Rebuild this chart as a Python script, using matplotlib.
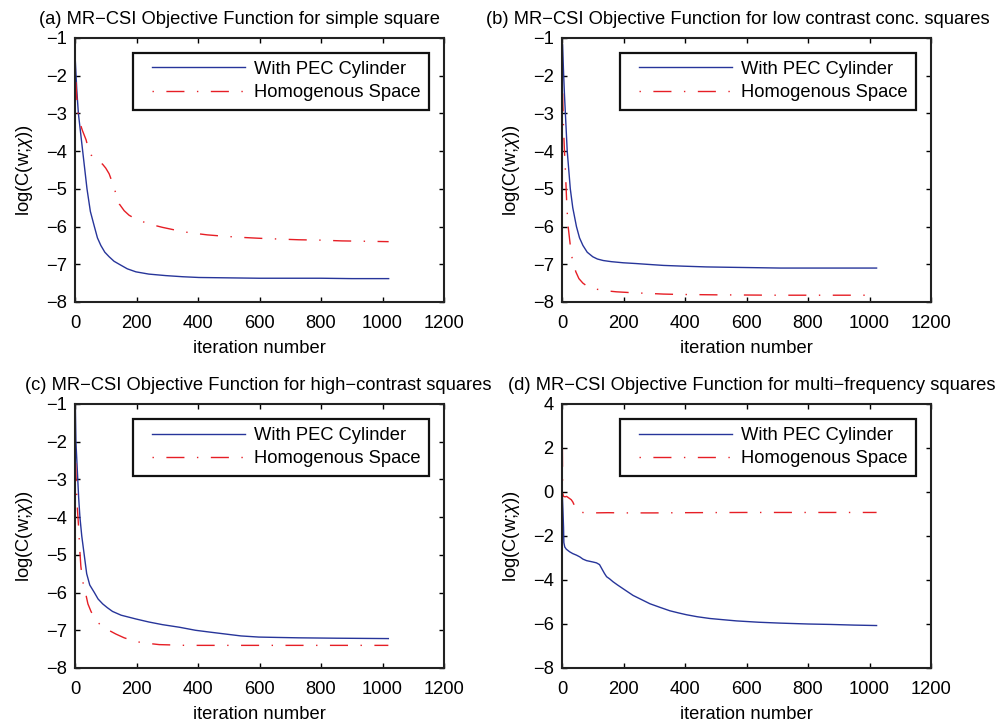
import matplotlib
matplotlib.use("Agg")
import matplotlib.pyplot as plt
from matplotlib.legend_handler import HandlerLine2D

# (a) simple square
a_pec_it = [1, 6, 11, 18, 25, 32, 39, 50, 63, 73, 84, 97, 111, 127, 144, 170, 198, 240, 295, 350, 403, 500, 600, 700, 800, 900, 1020]
a_pec_val = [-1.6, -2.4, -3.0, -3.5, -4.0, -4.5, -5.0, -5.6, -6.0, -6.3, -6.5, -6.68, -6.8, -6.92, -7.0, -7.12, -7.2, -7.26, -7.3, -7.33, -7.35, -7.36, -7.37, -7.37, -7.37, -7.38, -7.38]
a_hom_it = [1, 5, 9, 14, 24, 36, 44, 52, 60, 68, 80, 90, 100, 111, 120, 128, 136, 144, 160, 176, 198, 220, 250, 284, 330, 370, 430, 490, 550, 598, 660, 728, 800, 868, 950, 1020]
a_hom_val = [-1.8, -2.5, -2.95, -3.2, -3.45, -3.7, -3.95, -4.1, -4.15, -4.2, -4.28, -4.35, -4.45, -4.6, -4.8, -5.0, -5.2, -5.4, -5.58, -5.7, -5.8, -5.87, -5.95, -6.02, -6.1, -6.16, -6.22, -6.26, -6.29, -6.31, -6.33, -6.35, -6.36, -6.38, -6.39, -6.4]

# (b) low contrast conc. squares
b_pec_it = [2, 5, 8, 11, 14, 17, 22, 27, 35, 47, 57, 68, 82, 100, 115, 134, 160, 199, 240, 275, 330, 395, 470, 547, 630, 710, 850, 1023]
b_pec_val = [-1.18, -1.9, -2.5, -3.0, -3.5, -4.0, -4.5, -5.0, -5.5, -6.0, -6.3, -6.5, -6.68, -6.8, -6.86, -6.9, -6.93, -6.96, -6.98, -7.0, -7.03, -7.05, -7.07, -7.08, -7.09, -7.1, -7.1, -7.1]
b_hom_it = [1, 3, 5, 8, 11, 14, 16, 20, 27, 32, 38, 45, 55, 68, 85, 112, 140, 177, 220, 275, 330, 384, 500, 700, 900, 1023]
b_hom_val = [-2.1, -2.8, -3.4, -4.0, -4.5, -5.1, -5.5, -6.0, -6.5, -6.8, -7.0, -7.2, -7.38, -7.5, -7.6, -7.66, -7.7, -7.73, -7.75, -7.77, -7.79, -7.8, -7.81, -7.82, -7.82, -7.82]

# (c) high-contrast squares
c_pec_it = [1, 3, 6, 9, 12, 16, 22, 30, 38, 48, 63, 75, 90, 105, 122, 150, 198, 240, 284, 340, 392, 440, 490, 540, 598, 660, 728, 850, 1019]
c_pec_val = [-1.0, -2.0, -2.5, -3.0, -3.5, -4.0, -4.5, -5.0, -5.5, -5.8, -6.0, -6.17, -6.3, -6.4, -6.5, -6.6, -6.7, -6.78, -6.85, -6.92, -7.0, -7.05, -7.1, -7.15, -7.18, -7.19, -7.2, -7.21, -7.22]
c_hom_it = [1, 3, 5, 8, 12, 15, 19, 25, 34, 42, 52, 65, 75, 90, 110, 133, 160, 198, 230, 274, 320, 360, 500, 700, 900, 1019]
c_hom_val = [-2.2, -2.8, -3.3, -3.8, -4.3, -4.8, -5.3, -5.7, -6.0, -6.3, -6.5, -6.7, -6.8, -6.9, -7.0, -7.1, -7.2, -7.3, -7.34, -7.38, -7.39, -7.4, -7.4, -7.4, -7.4, -7.4]

# (d) multi-frequency squares
d_pec_it = [1, 3, 5, 6, 9, 14, 25, 35, 47, 58, 68, 80, 100, 112, 122, 130, 138, 145, 155, 166, 180, 199, 215, 231, 260, 286, 320, 351, 380, 405, 440, 481, 520, 568, 640, 710, 800, 873, 950, 1023]
d_pec_val = [-0.1, -0.8, -1.6, -2.3, -2.5, -2.6, -2.72, -2.8, -2.87, -2.95, -3.05, -3.12, -3.18, -3.22, -3.3, -3.5, -3.7, -3.85, -3.95, -4.08, -4.22, -4.4, -4.55, -4.7, -4.9, -5.08, -5.25, -5.4, -5.5, -5.58, -5.67, -5.75, -5.8, -5.86, -5.92, -5.96, -6.0, -6.02, -6.05, -6.07]
d_hom_it = [1, 2, 3, 5, 10, 15, 20, 25, 30, 35, 40, 45, 50, 60, 80, 100, 150, 200, 300, 400, 600, 800, 1023]
d_hom_val = [2.6, 0.5, -0.1, -0.2, -0.22, -0.2, -0.25, -0.3, -0.35, -0.45, -0.6, -0.8, -0.88, -0.92, -0.95, -0.95, -0.94, -0.95, -0.95, -0.94, -0.93, -0.93, -0.93]

titles = [
    "(a) MR\u2212CSI Objective Function for simple square",
    "(b) MR\u2212CSI Objective Function for low contrast conc. squares",
    "(c) MR\u2212CSI Objective Function for high\u2212contrast squares",
    "(d) MR\u2212CSI Objective Function for multi\u2212frequency squares",
]
title_x = [0.446, 0.477, 0.496, 0.515]
panels = [
    (a_pec_it, a_pec_val, a_hom_it, a_hom_val),
    (b_pec_it, b_pec_val, b_hom_it, b_hom_val),
    (c_pec_it, c_pec_val, c_hom_it, c_hom_val),
    (d_pec_it, d_pec_val, d_hom_it, d_hom_val),
]
yranges = [(-8, -1, 1), (-8, -1, 1), (-8, -1, 1), (-8, 4, 2)]

plt.rcParams['font.family'] = ['Liberation Sans', 'DejaVu Sans']
plt.rcParams['mathtext.fontset'] = 'custom'
plt.rcParams['mathtext.it'] = 'Liberation Sans:italic'
plt.rcParams['mathtext.rm'] = 'Liberation Sans'

fs = 13.2
blue = '#27359a'
red = '#e61e25'

fig = plt.figure(figsize=(9.97, 7.27), dpi=100)
W, H = 997.0, 727.0
boxes = [(75, 38), (562, 38), (75, 404), (562, 404)]

for i, (pi, pv, hi, hv) in enumerate(panels):
    x0, y0 = boxes[i]
    ax = fig.add_axes([x0 / W, 1 - (y0 + 264) / H, 369 / W, 264 / H])
    l1, = ax.plot(pi, pv, color=blue, lw=1.0, label='With PEC Cylinder')
    l2, = ax.plot(hi, hv, color=red, lw=1.0, dashes=(1, 9, 13, 9), label='Homogenous Space')
    lo, hi_, step = yranges[i]
    ax.set_xlim(0, 1200)
    ax.set_ylim(lo, hi_)
    ax.set_xticks(range(0, 1201, 200))
    ax.set_yticks(range(lo, hi_ + 1, step))
    ax.tick_params(direction='in', top=True, right=True, length=3.5, width=1.0,
                   labelsize=fs)
    ax.tick_params(axis='x', pad=9)
    ax.tick_params(axis='y', pad=6)
    for s in ax.spines.values():
        s.set_linewidth(1.5)
        s.set_color('#222222')
    ax.set_xlabel('iteration number', fontsize=fs, labelpad=6)
    ax.set_ylabel(r'log(C(w;$\chi$))', fontsize=fs, labelpad=8)
    ax.set_title(titles[i], fontsize=fs, x=title_x[i], pad=10)
    hmap = {l1: HandlerLine2D(xpad=0.6), l2: HandlerLine2D(xpad=0.6)}
    leg = ax.legend(loc='upper right', fontsize=fs, fancybox=False, framealpha=1,
                    edgecolor='#111111', handlelength=5.7, handletextpad=0.5,
                    borderaxespad=0.8, labelspacing=0.35, borderpad=0.45,
                    handler_map=hmap)
    leg.get_frame().set_linewidth(1.6)

fig.savefig('out.png', dpi=100)
